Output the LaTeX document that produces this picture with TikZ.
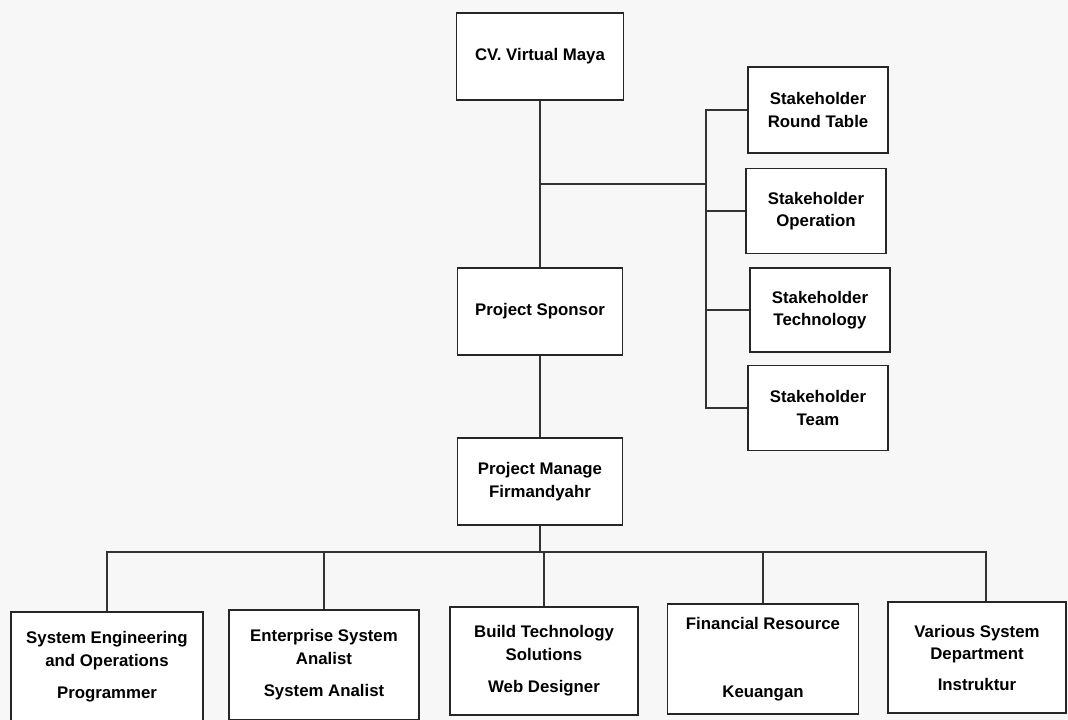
\documentclass[tikz,border=0pt]{standalone}
\usepackage{fontspec}
\setmainfont{Liberation Sans}
\begin{document}
\begin{tikzpicture}[x=1pt,y=-1pt,
  box/.style={draw=black!85, line width=1.4pt, fill=white, inner sep=0pt,
    align=center, font=\fontsize{16.8}{22.5}\selectfont\bfseries},
  conn/.style={draw=black!80, line width=1.5pt}]
\clip (0,0) rectangle (1068,720);
\fill[black!3] (0,0) rectangle (1068,720);

% top chain
\node[box, minimum width=167pt, minimum height=87pt] (cv) at (540,56.5) {CV. Virtual Maya};
\node[box, minimum width=165pt, minimum height=87pt] (ps) at (540,311.5) {Project Sponsor};
\node[box, minimum width=165pt, minimum height=87pt] (pm) at (540,481.5) {Project Manage\\Firmandyahr};

% stakeholders
\node[box, minimum width=140pt, minimum height=86pt] (rt) at (818,110) {Stakeholder\\Round Table};
\node[box, minimum width=140pt, minimum height=85pt] (op) at (816,211) {Stakeholder\\Operation};
\node[box, minimum width=140pt, minimum height=84pt] (te) at (820,310) {Stakeholder\\Technology};
\node[box, minimum width=140pt, minimum height=85pt] (tm) at (818,408) {Stakeholder\\Team};

% bottom row
\node[box, minimum width=192pt, minimum height=110pt] (se) at (107,667) {System Engineering\\and Operations\\[10pt]Programmer};
\node[box, minimum width=190pt, minimum height=110pt] (es) at (324,665) {Enterprise System\\Analist\\[10pt]System Analist};
\node[box, minimum width=188pt, minimum height=108pt] (bt) at (544,661) {Build Technology\\Solutions\\[10pt]Web Designer};
\node[box, minimum width=191pt, minimum height=110pt] (fr) at (763,659) {Financial Resource\\[46pt]Keuangan};
\node[box, minimum width=178pt, minimum height=111pt] (vs) at (977,657.5) {Various System\\Department\\[8pt]Instruktur};

% connectors: top
\coordinate (sv) at (706,0);
\coordinate (sj) at (540,184);
\coordinate (bus) at (0,552);
\draw[conn] (cv.south) -- (ps.north);
\draw[conn] (sj) -- (sj -| sv);
\draw[conn] (rt.west) -- (rt.west -| sv) -- (tm.west -| sv) -- (tm.west);
\draw[conn] (op.west) -- (op.west -| sv);
\draw[conn] (te.west) -- (te.west -| sv);
\draw[conn] (ps.south) -- (pm.north);

% connectors: bottom
\draw[conn] (pm.south) -- (pm.south |- bus);
\draw[conn] (se.north) -- (se.north |- bus) -- (bus -| 986,0) -- (986,0 |- vs.north);
\draw[conn] (es.north) -- (es.north |- bus);
\draw[conn] (bt.north) -- (bt.north |- bus);
\draw[conn] (fr.north) -- (fr.north |- bus);
\end{tikzpicture}
\end{document}
